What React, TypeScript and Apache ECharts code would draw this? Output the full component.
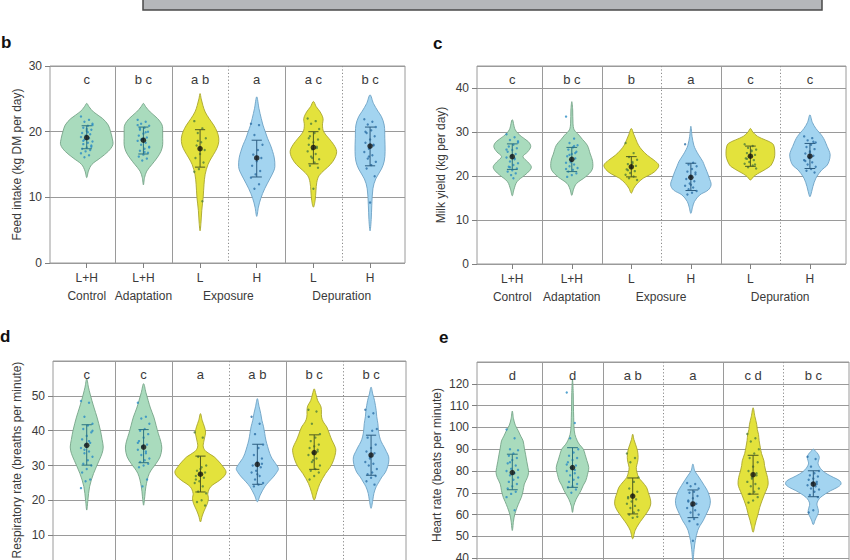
import React, { useEffect, useRef } from "react";
import * as echarts from "echarts";

const FONT = "'Liberation Sans', Arial, sans-serif";

// ---------- shared categories ----------
const categories = ["L+H", "L+H", "L", "H", "L", "H"];
const periodLabels = ["Control", "Adaptation", "Exposure", "Depuration"];
const periodSpans = [[0, 0], [1, 1], [2, 3], [4, 5]];
const separatorKinds = ["solid", "solid", "dotted", "solid", "dotted"];
const groupColours = ["green", "green", "yellow", "blue", "yellow", "blue"];

// ---------- b: feed intake ----------
const feedAxis = [0, 30, 10];
const feedLetters = ["c", "b c", "a b", "a", "a c", "b c"];
const feedMean = [19.1, 18.7, 17.4, 16.0, 17.6, 17.8];
const feedLow = [17.4, 16.6, 14.6, 13.1, 15.1, 14.8];
const feedHigh = [20.9, 20.7, 20.3, 18.7, 20.0, 20.7];
const feedPoints = [
  [22.3, 21.8, 21.5, 21.2, 20.9, 20.6, 20.3, 20.1, 19.8, 19.6, 19.4, 19.2, 19.0, 18.8, 18.5, 18.3, 18.1, 17.9, 17.6, 17.4, 17.2, 17.0, 16.7, 16.4, 16.1, 21.0, 19.9, 18.6, 17.7, 20.4],
  [21.8, 21.5, 21.2, 20.9, 20.6, 20.3, 20.0, 19.7, 19.4, 19.1, 18.9, 18.6, 18.3, 18.0, 17.7, 17.4, 17.1, 16.8, 16.5, 16.2, 15.9, 15.6, 21.0, 19.9, 18.8, 17.6, 16.9, 20.5],
  [21.6, 20.5, 19.8, 19.0, 18.4, 17.9, 17.2, 16.6, 16.0, 15.3, 14.3, 13.9, 9.4, 18.6],
  [21.2, 21.0, 19.5, 18.0, 17.2, 16.5, 16.0, 15.5, 14.8, 14.0, 13.5, 13.0, 12.0, 11.3],
  [22.0, 21.6, 21.2, 20.4, 19.8, 19.3, 18.8, 18.4, 18.0, 17.7, 17.3, 17.0, 16.6, 16.2, 15.8, 15.3, 14.8, 14.5, 11.3, 19.0, 17.5, 16.0],
  [21.9, 21.5, 21.1, 20.7, 20.2, 19.8, 19.3, 18.8, 18.3, 17.9, 17.4, 16.9, 16.4, 15.9, 15.4, 14.9, 14.4, 13.2, 9.2, 20.0, 18.0, 16.2],
];
const feedShapes = [
  [[13.0, 0], [14.0, 0.03], [15.0, 0.09], [16.0, 0.24], [17.0, 0.38], [18.0, 0.46], [19.0, 0.45], [20.0, 0.42], [21.0, 0.38], [22.0, 0.28], [23.0, 0.12], [23.8, 0.04], [24.3, 0]],
  [[11.9, 0], [13, 0.02], [14, 0.06], [15, 0.15], [16, 0.24], [17, 0.31], [18, 0.34], [19, 0.34], [20, 0.34], [21, 0.33], [22, 0.25], [23, 0.12], [23.8, 0.04], [24.3, 0]],
  [[4.9, 0], [6, 0.015], [8, 0.03], [10, 0.055], [12, 0.07], [13.5, 0.09], [15, 0.14], [16, 0.2], [17, 0.27], [18, 0.32], [19, 0.33], [20, 0.3], [21, 0.24], [22, 0.16], [23, 0.09], [24, 0.05], [25, 0.02], [25.8, 0]],
  [[7.1, 0], [8.5, 0.03], [9.8, 0.07], [11.3, 0.14], [12.8, 0.23], [14, 0.3], [14.7, 0.32], [16, 0.31], [17, 0.28], [18, 0.24], [19, 0.19], [20, 0.15], [21, 0.11], [22, 0.08], [23.5, 0.04], [25.3, 0]],
  [[8.5, 0], [9.5, 0.03], [11, 0.045], [12.3, 0.06], [13.3, 0.1], [14.2, 0.2], [15, 0.3], [16, 0.38], [17, 0.41], [18, 0.36], [19, 0.27], [20, 0.18], [21, 0.16], [22, 0.17], [23, 0.12], [23.8, 0.05], [24.6, 0]],
  [[4.9, 0], [6.6, 0.02], [8.7, 0.03], [11.3, 0.05], [12.8, 0.1], [14.3, 0.2], [15.5, 0.25], [17, 0.265], [19, 0.26], [21, 0.25], [22.3, 0.2], [23.1, 0.14], [24.3, 0.06], [25.6, 0]],
];

// ---------- c: milk yield ----------
const milkAxis = [0, 45, 10];
const milkLetters = ["c", "b c", "b", "a", "c", "c"];
const milkMean = [24.4, 23.8, 22.1, 19.7, 24.5, 24.5];
const milkLow = [21.5, 21.0, 19.8, 16.7, 22.2, 21.7];
const milkHigh = [27.3, 26.5, 24.4, 22.9, 26.8, 27.4];
const milkPoints = [
  [29.5, 28.8, 28.2, 27.6, 27.1, 26.7, 26.3, 25.9, 25.5, 25.0, 24.6, 24.2, 23.8, 23.3, 22.9, 22.5, 22.1, 21.7, 21.3, 21.0, 20.6, 20.2, 26.0, 24.0, 22.0, 27.9, 19.5],
  [33.5, 28.5, 27.5, 27.0, 26.5, 26.0, 25.5, 25.0, 24.5, 24.0, 23.5, 23.0, 22.6, 22.2, 21.8, 21.4, 21.0, 20.6, 20.2, 19.8, 25.2, 23.2, 21.6, 26.8, 24.8],
  [27.5, 25.2, 24.3, 23.7, 23.2, 22.7, 22.3, 21.9, 21.5, 21.1, 20.7, 20.3, 19.9, 19.5, 19.1, 22.9, 21.3],
  [27.2, 23.0, 22.6, 22.2, 21.6, 21.0, 20.4, 19.8, 19.3, 18.8, 18.3, 17.8, 17.4, 17.0, 16.6, 16.2, 15.8, 20.8, 18.0],
  [27.2, 26.8, 26.4, 26.0, 25.6, 25.2, 24.8, 24.4, 24.0, 23.6, 23.2, 22.8, 22.4, 22.0, 21.7, 25.8, 23.9, 22.6],
  [29.0, 28.6, 28.1, 27.6, 27.1, 26.6, 26.1, 25.6, 25.1, 24.6, 24.1, 23.6, 23.1, 22.6, 22.1, 21.6, 21.2, 20.8, 25.4, 23.4, 27.8],
];
const milkShapes = [
  [[15.5, 0], [17, 0.03], [18.7, 0.08], [20.2, 0.21], [21.2, 0.29], [22.1, 0.32], [23.2, 0.26], [24.4, 0.18], [25.5, 0.26], [26.7, 0.31], [27.8, 0.27], [29, 0.15], [30.5, 0.05], [32.8, 0]],
  [[15.6, 0], [17, 0.03], [18.3, 0.08], [19.8, 0.23], [21.4, 0.34], [23.3, 0.35], [25, 0.31], [27, 0.26], [28.3, 0.18], [29.3, 0.12], [30.5, 0.04], [32, 0.02], [35, 0.015], [36.9, 0]],
  [[16.1, 0], [17.2, 0.04], [18.3, 0.1], [19.5, 0.2], [20.5, 0.34], [21.5, 0.43], [22.5, 0.46], [23.6, 0.38], [24.7, 0.27], [25.9, 0.18], [27, 0.12], [28.2, 0.08], [29.5, 0.04], [30.8, 0]],
  [[11.5, 0], [13, 0.03], [14.2, 0.06], [15.7, 0.15], [16.8, 0.29], [18, 0.34], [19.5, 0.31], [21, 0.27], [22.3, 0.23], [23.3, 0.2], [24.8, 0.13], [26, 0.08], [27, 0.05], [29, 0.02], [31.3, 0]],
  [[19.1, 0], [19.8, 0.05], [20.5, 0.12], [21.1, 0.2], [22, 0.31], [22.5, 0.35], [24, 0.4], [25.2, 0.41], [26.6, 0.4], [27.4, 0.37], [28.2, 0.25], [29, 0.12], [30, 0.04], [30.8, 0]],
  [[15.3, 0], [16.5, 0.03], [17.6, 0.05], [19.5, 0.1], [21.4, 0.2], [22.3, 0.28], [23.3, 0.32], [24.8, 0.34], [25.8, 0.32], [26.7, 0.29], [28, 0.25], [29, 0.21], [30, 0.15], [30.8, 0.1], [32.2, 0.04], [33.9, 0]],
];

// ---------- d: respiratory rate ----------
const respAxis = [0, 60, 10];
const respLetters = ["c", "c", "a", "a b", "b c", "b c"];
const respMean = [35.8, 35.3, 27.5, 30.3, 33.7, 33.0];
const respLow = [30.1, 30.8, 22.4, 24.6, 28.9, 27.2];
const respHigh = [41.7, 40.3, 32.7, 36.1, 38.8, 38.7];
const respPoints = [
  [48.5, 48.0, 44.0, 42.0, 41.5, 40.5, 39.5, 38.5, 37.5, 36.5, 36.0, 35.0, 34.0, 33.5, 32.5, 31.5, 30.5, 30.0, 29.0, 28.0, 26.0, 25.5, 23.5, 37.0, 34.5, 40.0],
  [48.0, 44.0, 43.5, 42.0, 40.5, 40.0, 39.0, 38.0, 37.0, 36.0, 35.5, 34.5, 34.0, 33.0, 32.0, 31.5, 31.0, 30.5, 30.0, 29.5, 26.0, 24.0, 36.5, 33.5],
  [39.5, 38.0, 32.5, 30.0, 29.5, 28.5, 28.0, 27.5, 27.0, 26.5, 25.5, 25.0, 24.0, 22.5, 22.0, 20.0, 19.5, 18.5, 29.0, 26.0],
  [44.0, 42.0, 39.0, 36.0, 35.0, 33.0, 32.0, 31.0, 30.0, 29.5, 28.5, 28.0, 27.0, 26.0, 25.0, 24.5, 24.0, 30.5, 27.5],
  [46.0, 45.5, 42.0, 39.0, 38.0, 37.0, 36.0, 35.5, 35.0, 34.0, 33.5, 33.0, 32.0, 31.0, 30.0, 29.0, 28.5, 28.0, 27.0, 26.0, 34.5, 31.5],
  [46.0, 45.0, 44.0, 40.5, 40.0, 38.0, 36.0, 35.0, 34.0, 33.5, 32.5, 31.0, 30.5, 30.0, 29.0, 28.0, 27.5, 27.0, 26.5, 25.5, 24.5, 32.0],
];
const respShapes = [
  [[17.2, 0], [20, 0.02], [23.9, 0.05], [27.7, 0.12], [31.5, 0.22], [33.5, 0.27], [35.3, 0.29], [37.5, 0.27], [40.1, 0.24], [43.9, 0.18], [46.5, 0.13], [48.7, 0.09], [50.5, 0.06], [52.5, 0.03], [54.9, 0]],
  [[18.6, 0], [21, 0.02], [23.9, 0.04], [27.7, 0.1], [30.6, 0.22], [32.5, 0.29], [35, 0.32], [37, 0.3], [39.1, 0.26], [41.5, 0.22], [43.9, 0.18], [46.5, 0.12], [48.7, 0.08], [51, 0.04], [53.5, 0]],
  [[13.8, 0], [15.5, 0.03], [17.2, 0.07], [19, 0.12], [20.5, 0.14], [22, 0.13], [23.9, 0.18], [25.8, 0.34], [27, 0.42], [28.2, 0.45], [29.6, 0.4], [31, 0.33], [32.5, 0.24], [34, 0.1], [35.3, 0.05], [37, 0.06], [38.5, 0.08], [39.6, 0.09], [41.1, 0.07], [43, 0.03], [44.9, 0]],
  [[19.6, 0], [21.5, 0.05], [23.9, 0.13], [25.3, 0.2], [26.7, 0.28], [28, 0.34], [29.1, 0.37], [30.6, 0.32], [32, 0.26], [33.4, 0.22], [35.5, 0.18], [37.3, 0.15], [39.2, 0.13], [41.1, 0.11], [43, 0.08], [44.9, 0.06], [47, 0.03], [49.2, 0]],
  [[20.1, 0], [22.5, 0.05], [24.8, 0.1], [27.7, 0.2], [29.5, 0.28], [31.5, 0.34], [34.4, 0.38], [36, 0.35], [37.3, 0.31], [39, 0.27], [41.1, 0.22], [42.5, 0.16], [43.9, 0.13], [46.8, 0.12], [48.7, 0.06], [50.5, 0.03], [52, 0]],
  [[17.7, 0], [20, 0.03], [22, 0.05], [23.9, 0.09], [25.3, 0.14], [26.7, 0.19], [28, 0.25], [29.6, 0.29], [31, 0.31], [32.5, 0.31], [34, 0.27], [35.3, 0.23], [36.8, 0.18], [38.2, 0.15], [40, 0.13], [42, 0.12], [44, 0.1], [45.8, 0.09], [48.7, 0.06], [50.5, 0.03], [52.5, 0]],
];

// ---------- e: heart rate ----------
const heartAxis = [30, 130, 10];
const heartLetters = ["d", "d", "a b", "a", "c d", "b c"];
const heartMean = [79.3, 81.6, 68.5, 64.9, 78.3, 74.0];
const heartLow = [71.4, 72.5, 60.3, 58.6, 69.4, 68.2];
const heartHigh = [87.7, 90.7, 76.8, 71.3, 87.2, 80.1];
const heartPoints = [
  [99.0, 95.0, 90.0, 89.5, 88.0, 87.0, 86.0, 85.0, 83.5, 82.5, 81.0, 80.0, 79.0, 78.0, 77.0, 76.0, 75.0, 74.0, 73.0, 72.0, 70.5, 69.5, 68.0, 62.0, 84.0, 80.5],
  [116.0, 102.0, 95.0, 90.0, 88.5, 87.0, 86.0, 85.0, 84.0, 82.5, 81.5, 80.0, 79.0, 78.0, 77.0, 76.0, 75.0, 74.0, 73.0, 72.5, 71.5, 70.0, 83.0, 80.5],
  [88.0, 86.0, 84.0, 77.0, 75.0, 72.0, 70.5, 69.0, 68.0, 67.0, 66.0, 65.0, 64.0, 63.0, 62.0, 61.0, 60.0, 59.0, 58.5, 67.5],
  [74.5, 74.0, 73.0, 72.0, 70.5, 70.0, 68.5, 67.5, 66.0, 65.0, 64.0, 63.0, 62.0, 61.0, 60.0, 58.0, 57.0, 55.5, 48.0, 66.5],
  [97.0, 95.0, 93.5, 90.0, 88.0, 86.0, 84.0, 82.0, 80.0, 78.0, 76.5, 75.0, 74.0, 73.0, 72.0, 70.5, 69.5, 68.0, 66.5, 65.5, 79.0, 77.0],
  [86.5, 85.5, 82.0, 80.0, 79.0, 78.0, 77.5, 76.5, 76.0, 75.0, 74.5, 73.5, 73.0, 72.0, 71.5, 70.5, 69.0, 68.0, 62.0, 61.0, 74.0],
];
const heartShapes = [
  [[52.7, 0], [57, 0.02], [60, 0.04], [63.3, 0.08], [66, 0.12], [67.9, 0.15], [71, 0.18], [74, 0.2], [77, 0.25], [79.3, 0.27], [81.6, 0.26], [84.5, 0.24], [87.7, 0.22], [90.5, 0.2], [93.8, 0.18], [96, 0.14], [98.4, 0.1], [101, 0.05], [104, 0.02], [107.5, 0]],
  [[61, 0], [64, 0.02], [67, 0.06], [69, 0.1], [71, 0.14], [73.5, 0.18], [75.5, 0.22], [78.5, 0.25], [81.6, 0.27], [84.7, 0.24], [87.5, 0.21], [90, 0.18], [92, 0.12], [93.8, 0.08], [96.8, 0.04], [100, 0.025], [104.4, 0.02], [110, 0.015], [116, 0.012], [122, 0]],
  [[48.9, 0], [52.7, 0.04], [55.7, 0.1], [58, 0.16], [60.3, 0.22], [62.5, 0.27], [64.9, 0.3], [67.5, 0.29], [70, 0.26], [72.5, 0.23], [75, 0.16], [77, 0.1], [79.5, 0.07], [81.6, 0.06], [84, 0.08], [86.2, 0.09], [89.2, 0.08], [92, 0.05], [94.5, 0.02], [96.9, 0]],
  [[39, 0], [44, 0.02], [48.1, 0.04], [52.7, 0.08], [55, 0.12], [57.2, 0.17], [59.5, 0.21], [61.8, 0.25], [64, 0.28], [66.4, 0.29], [68.8, 0.27], [71, 0.24], [73.3, 0.19], [75.5, 0.14], [78, 0.08], [80.1, 0.03], [83.2, 0]],
  [[51.9, 0], [55, 0.03], [57.2, 0.05], [60, 0.08], [63.3, 0.11], [66.5, 0.15], [69.4, 0.19], [72, 0.23], [74, 0.25], [77, 0.24], [80, 0.21], [82.5, 0.19], [84.7, 0.18], [88, 0.14], [90.8, 0.12], [94, 0.1], [96.8, 0.09], [99, 0.07], [101.4, 0.06], [105, 0.03], [109, 0]],
  [[55.4, 0], [57.5, 0.03], [58.7, 0.05], [60.5, 0.08], [61.8, 0.085], [63.5, 0.07], [64.9, 0.06], [66.5, 0.08], [67.9, 0.12], [69.5, 0.2], [71, 0.29], [72.5, 0.4], [74, 0.46], [75.5, 0.44], [77, 0.34], [78.6, 0.23], [80.5, 0.14], [83.2, 0.08], [85, 0.09], [86.2, 0.1], [87.7, 0.08], [89, 0.04], [90, 0]],
];

// ---------- styles ----------
const FILL: any = { green: "#a9dbbd", yellow: "#e3e23c", blue: "#a3d4f0" };
const STROKE: any = { green: "#76a488", yellow: "#a8a52e", blue: "#6da2c4" };
const DOT: any = { green: "#2b8cc4", yellow: "#4f7f3c", blue: "#2c6fa6" };
const BAR: any = { green: "#2a7282", yellow: "#4e5a22", blue: "#2b5c80" };
const GRID_LINE = "#9a9a9a";
const TEXT = "#3a3a3a";

const panels = [
  {
    label: "b", labelPos: [1, 42], title: "Feed intake (kg DM per day)", titleOnAxis: true, nameGap: 27,
    axis: feedAxis, letters: feedLetters, mean: feedMean, low: feedLow, high: feedHigh, points: feedPoints, shapes: feedShapes,
    frame: [50, 66, 355, 197], data: [58.4, 340], showX: true, showMax: true, showMin: true,
  },
  {
    label: "c", labelPos: [433, 43], title: "Milk yield (kg per day)", titleOnAxis: true, nameGap: 30,
    axis: milkAxis, letters: milkLetters, mean: milkMean, low: milkLow, high: milkHigh, points: milkPoints, shapes: milkShapes,
    frame: [477, 66, 369, 198], data: [482.5, 357.2], showX: true, showMax: false, showMin: true,
  },
  {
    label: "d", labelPos: [0, 336], title: "Respiratory rate (breaths per minute)", titleOnAxis: false, titlePos: [17, 460], nameGap: 30,
    axis: respAxis, letters: respLetters, mean: respMean, low: respLow, high: respHigh, points: respPoints, shapes: respShapes,
    frame: [53, 361, 353, 209], data: [58.3, 341.2], showX: false, showMax: false, showMin: false,
  },
  {
    label: "e", labelPos: [439, 337], title: "Heart rate (beats per minute)", titleOnAxis: false, titlePos: [437, 465], nameGap: 35,
    axis: heartAxis, letters: heartLetters, mean: heartMean, low: heartLow, high: heartHigh, points: heartPoints, shapes: heartShapes,
    frame: [477, 362, 372, 218], data: [482.2, 361.2], showX: false, showMax: false, showMin: false,
  },
];

function jitter(k: number) {
  return (((k * 7) % 11) - 5) * 1.15;
}

function buildOption() {
  const grid: any[] = [];
  const xAxis: any[] = [];
  const yAxis: any[] = [];
  const series: any[] = [];
  const graphic: any[] = [];

  graphic.push({
    type: "rect", z: 100,
    shape: { x: 143, y: -6, width: 679, height: 16 },
    style: { fill: "#b5b7ba", stroke: "#4a4a4a", lineWidth: 1.5 },
  });

  panels.forEach((p: any, pi: number) => {
    const fi = pi * 2;
    const di = pi * 2 + 1;
    const [fl, ft, fw, fh] = p.frame;
    const [ymin, ymax, yint] = p.axis;

    grid.push({ left: fl, top: ft, width: fw, height: fh, show: true, borderColor: GRID_LINE, borderWidth: 1, backgroundColor: "transparent" });
    grid.push({ left: p.data[0], top: ft, width: p.data[1], height: fh });

    xAxis.push({ gridIndex: fi, type: "value", min: 0, max: 1, show: false });
    xAxis.push({
      gridIndex: di, type: "category", data: categories, boundaryGap: true,
      axisLine: { show: false },
      axisTick: { show: p.showX, alignWithLabel: true, length: 5, lineStyle: { color: "#808080" } },
      axisLabel: { show: p.showX, margin: 9, fontSize: 12, color: TEXT, fontFamily: FONT },
      splitLine: { show: false },
    });

    yAxis.push({
      gridIndex: fi, type: "value", min: ymin, max: ymax, interval: yint,
      name: p.titleOnAxis ? p.title : "", nameLocation: "middle", nameGap: p.nameGap,
      nameTextStyle: { fontSize: 12, color: TEXT, fontFamily: FONT },
      axisLine: { show: false },
      axisTick: { show: true, length: 5, lineStyle: { color: "#808080" } },
      axisLabel: { fontSize: 12, color: TEXT, fontFamily: FONT, margin: 8, showMaxLabel: p.showMax, showMinLabel: p.showMin },
      splitLine: { show: true, lineStyle: { color: GRID_LINE, width: 1 } },
    });
    yAxis.push({ gridIndex: di, type: "value", min: ymin, max: ymax, interval: yint, show: false, splitLine: { show: false } });

    // panel letter
    graphic.push({
      type: "text", x: p.labelPos[0], y: p.labelPos[1],
      style: { text: p.label, fontSize: 17, fontWeight: "bold", fill: "#111", fontFamily: FONT, verticalAlign: "middle", align: "left" },
    });
    if (!p.titleOnAxis) {
      graphic.push({
        type: "text", x: p.titlePos[0], y: p.titlePos[1], rotation: Math.PI / 2,
        style: { text: p.title, fontSize: 12, fill: TEXT, fontFamily: FONT, align: "center", verticalAlign: "middle" },
      });
    }

    const axisRefs = { xAxisIndex: di, yAxisIndex: di };

    // separators between groups
    series.push({
      type: "custom", ...axisRefs, z: 2, silent: true, clip: false,
      data: separatorKinds.map((k, i) => [i]),
      renderItem: (params: any, api: any) => {
        const i = api.value(0);
        const cs = params.coordSys;
        const x = Math.round((api.coord([i, ymin])[0] + api.coord([i + 1, ymin])[0]) / 2) + 0.5;
        const dotted = separatorKinds[i] === "dotted";
        return {
          type: "line",
          shape: { x1: x, y1: cs.y, x2: x, y2: cs.y + cs.height },
          style: { stroke: dotted ? "#8a8a8a" : GRID_LINE, lineWidth: 1, lineDash: dotted ? [1.2, 2.2] : null },
        };
      },
    });

    // violins
    series.push({
      type: "custom", ...axisRefs, z: 3, silent: true, clip: false,
      data: groupColours.map((c, i) => [i]),
      renderItem: (params: any, api: any) => {
        const i = api.value(0);
        const prof = p.shapes[i];
        const cx = api.coord([i, ymin])[0];
        const bw = api.coord([1, ymin])[0] - api.coord([0, ymin])[0];
        const right = prof.map((d: number[]) => [cx + d[1] * bw, api.coord([i, d[0]])[1]]);
        const left = prof.slice().reverse().map((d: number[]) => [cx - d[1] * bw, api.coord([i, d[0]])[1]]);
        const pts = right.concat(left.slice(1, -1));
        const col = groupColours[i];
        return {
          type: "polygon",
          shape: { points: pts, smooth: 0.35 },
          style: { fill: FILL[col], stroke: STROKE[col], lineWidth: 0.9 },
        };
      },
    });

    // raw points
    const dotData: any[] = [];
    p.points.forEach((arr: number[], i: number) => {
      arr.forEach((v: number, k: number) => {
        dotData.push({ value: [i, v], symbolOffset: [jitter(k), 0], itemStyle: { color: DOT[groupColours[i]] } });
      });
    });
    series.push({
      type: "scatter", ...axisRefs, z: 4, silent: true, symbol: "circle", symbolSize: 2.4,
      data: dotData,
    });

    // error bars
    series.push({
      type: "custom", ...axisRefs, z: 5, silent: true, clip: false,
      data: p.mean.map((m: number, i: number) => [i, p.low[i], p.high[i]]),
      renderItem: (params: any, api: any) => {
        const i = api.value(0);
        const lo = api.coord([i, api.value(1)]);
        const hi = api.coord([i, api.value(2)]);
        const bw = api.coord([1, ymin])[0] - api.coord([0, ymin])[0];
        const cap = bw * 0.09;
        const stroke = BAR[groupColours[i]];
        const st = { stroke, lineWidth: 1 };
        return {
          type: "group",
          children: [
            { type: "line", shape: { x1: lo[0], y1: lo[1], x2: hi[0], y2: hi[1] }, style: st },
            { type: "line", shape: { x1: lo[0] - cap, y1: lo[1], x2: lo[0] + cap, y2: lo[1] }, style: st },
            { type: "line", shape: { x1: hi[0] - cap, y1: hi[1], x2: hi[0] + cap, y2: hi[1] }, style: st },
          ],
        };
      },
    });

    // means
    series.push({
      type: "scatter", ...axisRefs, z: 6, silent: true, symbol: "circle", symbolSize: 5.5,
      itemStyle: { color: "#111" },
      data: p.mean.map((m: number, i: number) => [i, m]),
    });

    // significance letters
    series.push({
      type: "custom", ...axisRefs, z: 7, silent: true, clip: false,
      data: p.letters.map((l: string, i: number) => [i]),
      renderItem: (params: any, api: any) => {
        const i = api.value(0);
        const x = api.coord([i, ymin])[0];
        return {
          type: "text", x, y: params.coordSys.y + 13,
          style: { text: p.letters[i], fontSize: 13, fill: TEXT, fontFamily: FONT, align: "center", verticalAlign: "middle" },
        };
      },
    });

    // period labels
    if (p.showX) {
      series.push({
        type: "custom", ...axisRefs, z: 7, silent: true, clip: false,
        data: periodLabels.map((l, j) => [j]),
        renderItem: (params: any, api: any) => {
          const j = api.value(0);
          const span = periodSpans[j];
          const x = (api.coord([span[0], ymin])[0] + api.coord([span[1], ymin])[0]) / 2;
          const cs = params.coordSys;
          return {
            type: "text", x, y: cs.y + cs.height + 33,
            style: { text: periodLabels[j], fontSize: 12, fill: TEXT, fontFamily: FONT, align: "center", verticalAlign: "middle" },
          };
        },
      });
    }
  });

  return { animation: false, backgroundColor: "#ffffff", grid, xAxis, yAxis, series, graphic };
}

export default function App() {
  const ref = useRef<HTMLDivElement | null>(null);
  useEffect(() => {
    if (!ref.current) return;
    const chart = echarts.init(ref.current, undefined, { renderer: "svg" });
    chart.setOption(buildOption() as any);
    return () => chart.dispose();
  }, []);
  return (
    <div style={{ position: "absolute", left: 0, top: 0, width: 850, height: 560, overflow: "hidden", background: "#fff" }}>
      <div ref={ref} style={{ width: 850, height: 600 }} />
    </div>
  );
}
